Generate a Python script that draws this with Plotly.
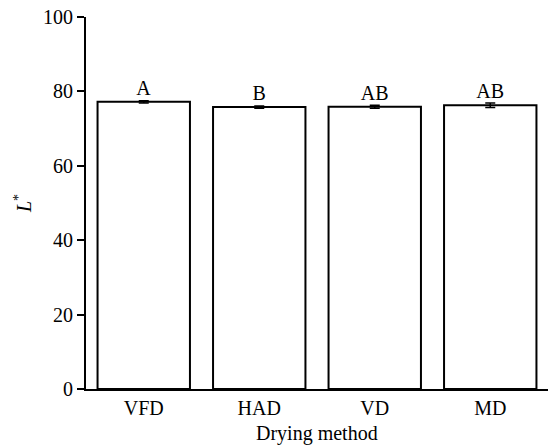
import plotly.graph_objects as go

methods = ["VFD", "HAD", "VD", "MD"]
l_values = [77.2, 75.8, 75.9, 76.3]
l_errors = [0.3, 0.3, 0.4, 0.6]
letters = ["A", "B", "AB", "AB"]

font_family = "Liberation Serif, Times New Roman, serif"

fig = go.Figure()
fig.add_trace(go.Bar(
    x=methods,
    y=l_values,
    width=0.8,
    marker=dict(color="white", line=dict(color="black", width=2)),
    error_y=dict(type="data", array=l_errors, color="black", thickness=1.5, width=5),
    text=letters,
    textposition="outside",
    textfont=dict(family=font_family, size=20, color="black"),
    cliponaxis=False,
    showlegend=False,
))

fig.update_layout(
    width=551,
    height=445,
    margin=dict(l=86, r=3, t=17, b=56),
    plot_bgcolor="white",
    paper_bgcolor="white",
    font=dict(family=font_family, size=20, color="black"),
    bargap=0.2,
)

fig.update_xaxes(
    range=[-0.5, 3.5],
    automargin=False,
    showline=True,
    linecolor="black",
    linewidth=2,
    ticks="",
    showgrid=False,
    tickfont=dict(size=20),
)

# x-axis title placed just below the category labels
fig.add_annotation(
    text="Drying method",
    xref="paper", yref="paper",
    x=0.5, y=0,
    xanchor="center", yanchor="middle",
    yshift=-44,
    showarrow=False,
    font=dict(family=font_family, size=20, color="black"),
)

fig.update_yaxes(
    range=[0, 100],
    automargin=False,
    tickvals=[0, 20, 40, 60, 80, 100],
    showline=True,
    linecolor="black",
    linewidth=2,
    ticks="outside",
    ticklen=7,
    tickwidth=1.5,
    tickcolor="black",
    showgrid=False,
    zeroline=False,
    tickfont=dict(size=20),
    title=dict(text="<i>L</i><sup>*</sup>", font=dict(size=20), standoff=6),
)

fig.write_html("out.html")
